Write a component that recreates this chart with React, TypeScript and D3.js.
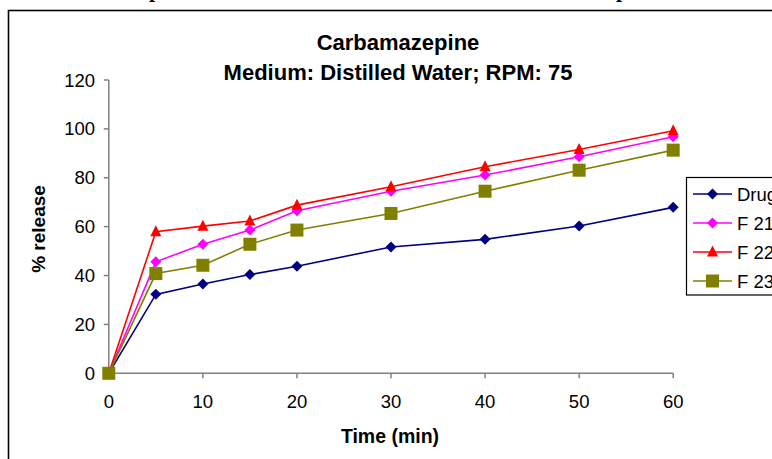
import React from "react";
import * as d3 from "d3";

const times = [0, 5, 10, 15, 20, 30, 40, 50, 60];
const drug = [0, 32.3, 36.5, 40.4, 43.8, 51.7, 54.8, 60.3, 67.9];
const f21 = [0, 45.6, 52.8, 58.6, 66.5, 74.5, 81.1, 88.6, 96.8];
const f22 = [0, 57.9, 60.2, 62.3, 68.8, 76.3, 84.5, 91.6, 99.2];
const f23 = [0, 40.8, 44.2, 52.8, 58.6, 65.4, 74.5, 83.1, 91.3];
const seriesNames = ["Drug", "F 21", "F 22", "F 23"];
const xTicks = [0, 10, 20, 30, 40, 50, 60];
const yTicks = [0, 20, 40, 60, 80, 100, 120];

const W = 772;
const H = 459;

type Shape = "diamond" | "triangle" | "square";

function marker(shape: Shape, cx: number, cy: number, color: string, key: string) {
  if (shape === "diamond") {
    const r = 5.5;
    return (
      <polygon key={key} points={`${cx},${cy - r} ${cx + r},${cy} ${cx},${cy + r} ${cx - r},${cy}`} fill={color} />
    );
  }
  if (shape === "triangle") {
    const r = 5.5;
    return (
      <polygon key={key} points={`${cx},${cy - r - 1} ${cx + r},${cy + r - 1} ${cx - r},${cy + r - 1}`} fill={color} />
    );
  }
  const s = 6.5;
  return <rect key={key} x={cx - s} y={cy - s} width={2 * s} height={2 * s} fill={color} />;
}

export default function App() {
  const x = d3.scaleLinear().domain([0, 60]).range([108.8, 673.2]);
  const y = d3.scaleLinear().domain([0, 120]).range([373.3, 80]);
  const series: { name: string; values: number[]; color: string; shape: Shape }[] = [
    { name: seriesNames[0], values: drug, color: "#000080", shape: "diamond" },
    { name: seriesNames[1], values: f21, color: "#FF00FF", shape: "diamond" },
    { name: seriesNames[2], values: f22, color: "#FF0000", shape: "triangle" },
    { name: seriesNames[3], values: f23, color: "#808000", shape: "square" },
  ];
  const line = d3
    .line<number>()
    .x((_, i) => x(times[i]))
    .y((d) => y(d));
  const font = "'Liberation Sans', Arial, sans-serif";
  const legendY = [194, 223, 252, 281];

  return (
    <svg
      width={W}
      height={H}
      style={{ position: "absolute", left: 0, top: 0, display: "block", background: "#fff" }}
      fontFamily={font}
    >
      <rect x={0} y={0} width={W} height={H} fill="#fff" />
      <text x={155} y={-3} fontFamily="'Liberation Serif', serif" fontWeight="bold" fontSize={22} textAnchor="middle">p</text>
      <text x={622} y={-3} fontFamily="'Liberation Serif', serif" fontWeight="bold" fontSize={22} textAnchor="middle">p</text>
      <rect x={8.5} y={10.5} width={W + 20} height={H + 20} fill="none" stroke="#000" strokeWidth={1.6} />

      <text x={398} y={50} textAnchor="middle" fontWeight="bold" fontSize={22}>Carbamazepine</text>
      <text x={398} y={80} textAnchor="middle" fontWeight="bold" fontSize={22}>Medium: Distilled Water; RPM: 75</text>

      {/* axes */}
      <line x1={x(0)} x2={x(0)} y1={y(120)} y2={y(0)} stroke="#808080" strokeWidth={1.5} />
      <line x1={x(0)} x2={x(60)} y1={y(0)} y2={y(0)} stroke="#808080" strokeWidth={1.5} />
      {yTicks.map((t) => (
        <g key={"yt" + t}>
          <line x1={x(0) - 5} x2={x(0)} y1={y(t)} y2={y(t)} stroke="#808080" strokeWidth={1.5} />
          <text x={95} y={y(t) + 6.5} textAnchor="end" fontSize={18.5}>{t}</text>
        </g>
      ))}
      {xTicks.map((t) => (
        <g key={"xt" + t}>
          <line x1={x(t)} x2={x(t)} y1={y(0)} y2={y(0) + 5} stroke="#808080" strokeWidth={1.5} />
          <text x={x(t)} y={408} textAnchor="middle" fontSize={18.5}>{t}</text>
        </g>
      ))}
      <text x={390} y={443} textAnchor="middle" fontWeight="bold" fontSize={19.5}>Time (min)</text>
      <text transform={`translate(45,229) rotate(-90)`} textAnchor="middle" fontWeight="bold" fontSize={19}>% release</text>

      {series.map((s) => (
        <g key={s.name}>
          <path d={line(s.values) || ""} fill="none" stroke={s.color} strokeWidth={1.6} />
          {s.values.map((v, i) => marker(s.shape, x(times[i]), y(v), s.color, s.name + i))}
        </g>
      ))}

      {/* legend */}
      <rect x={686.5} y={177.5} width={120} height={117.5} fill="#fff" stroke="#000" strokeWidth={1.2} />
      {series.map((s, i) => (
        <g key={"lg" + s.name}>
          <line x1={693} x2={732} y1={legendY[i]} y2={legendY[i]} stroke={s.color} strokeWidth={1.6} />
          {marker(s.shape, 712.5, legendY[i], s.color, "lm" + i)}
          <text x={737} y={legendY[i] + 6.5} fontSize={18.5}>{s.name}</text>
        </g>
      ))}
    </svg>
  );
}
